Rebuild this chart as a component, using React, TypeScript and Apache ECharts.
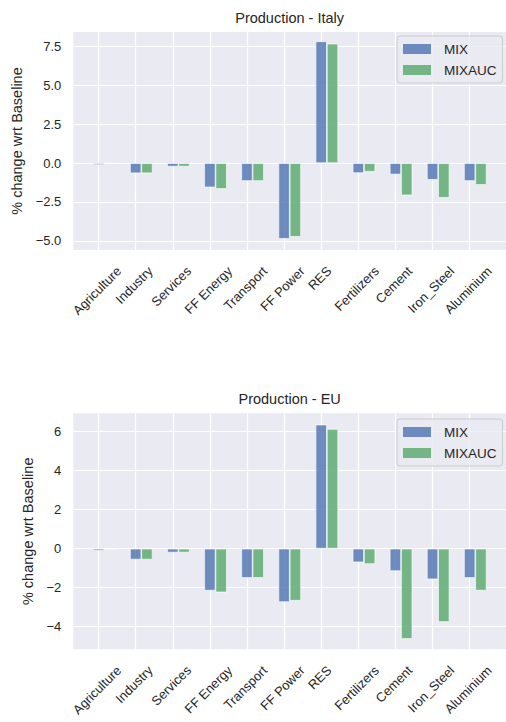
import React, { useEffect, useRef } from 'react';
import * as echarts from 'echarts';

const categories = ['Agriculture', 'Industry', 'Services', 'FF Energy', 'Transport', 'FF Power', 'RES', 'Fertilizers', 'Cement', 'Iron_Steel', 'Aluminium'];
const seriesNames = ['MIX', 'MIXAUC'];
const titles = ['Production - Italy', 'Production - EU'];
const italyMIX = [-0.12, -0.65, -0.22, -1.56, -1.15, -4.87, 7.84, -0.64, -0.73, -1.07, -1.15];
const italyMIXAUC = [-0.02, -0.65, -0.22, -1.66, -1.15, -4.74, 7.69, -0.55, -2.07, -2.23, -1.4];
const euMIX = [-0.1, -0.56, -0.2, -2.15, -1.5, -2.74, 6.36, -0.7, -1.15, -1.57, -1.5];
const euMIXAUC = [-0.02, -0.56, -0.2, -2.24, -1.5, -2.67, 6.14, -0.79, -4.63, -3.76, -2.15];
const italyTicks = [-5, -2.5, 0, 2.5, 5, 7.5];
const euTicks = [-4, -2, 0, 2, 4, 6];
const yLabel = '% change wrt Baseline';

export default function App() {
  const ref = useRef<HTMLDivElement>(null);
  useEffect(() => {
    const el = ref.current!;
    const chart = echarts.init(el, null, { renderer: 'svg' });
    const FONT = "'Liberation Sans', Arial, Helvetica, sans-serif";
    const TEXT = '#262626';
    const BLUE = 'rgba(76,114,176,0.8)';
    const GREEN = 'rgba(85,168,104,0.8)';
    const TICK_FS = 13;
    const TITLE_FS = 14.5;
    const xMin = -0.68;
    const xMax = 10.98;
    const barW = 11.3;
    const panels = [
      { title: titles[0], mix: italyMIX, auc: italyMIXAUC, ticks: italyTicks, yMin: -5.59, yMax: 8.44, top: 32, height: 218, nameGap: 47, dec: 1, legendTop: 36, titleY: 18 },
      { title: titles[1], mix: euMIX, auc: euMIXAUC, ticks: euTicks, yMin: -5.16, yMax: 6.94, top: 413.3, height: 236, nameGap: 37, dec: 0, legendTop: 419, titleY: 398.5 },
    ];
    const fmt = (d: number) => (v: number) => (v < 0 ? '\u2212' : '') + Math.abs(v).toFixed(d);
    const idx = categories.map((_, i) => i);

    const grid: any[] = [];
    const xAxis: any[] = [];
    const yAxis: any[] = [];
    const series: any[] = [];
    const legend: any[] = [];
    panels.forEach((p, g) => {
      grid.push({ left: 73.3, right: -7, top: p.top, height: p.height, show: true, backgroundColor: '#EAEAF2', borderWidth: 0, containLabel: false });
      xAxis.push({
        type: 'value', gridIndex: g, min: xMin, max: xMax,
        axisLine: { show: false },
        axisTick: { show: false, customValues: idx },
        axisLabel: { show: false, customValues: idx },
        splitLine: { show: true, lineStyle: { color: '#ffffff', width: 1.2 } },
      });
      yAxis.push({
        type: 'value', gridIndex: g, min: p.yMin, max: p.yMax,
        axisLine: { show: false },
        axisTick: { show: false, customValues: p.ticks },
        axisLabel: { customValues: p.ticks, formatter: fmt(p.dec), fontSize: TICK_FS, color: TEXT, fontFamily: FONT, margin: 12 },
        splitLine: { show: true, lineStyle: { color: '#ffffff', width: 1.2 } },
        name: yLabel, nameLocation: 'middle', nameGap: p.nameGap,
        nameTextStyle: { fontSize: TITLE_FS, color: TEXT, fontFamily: FONT },
      });
      series.push({ type: 'bar', name: '_pad' + g, xAxisIndex: g, yAxisIndex: g, data: [], barWidth: barW, barGap: '0%' });
      [p.mix, p.auc].forEach((vals, k) => {
        series.push({
          type: 'bar', name: seriesNames[k], xAxisIndex: g, yAxisIndex: g,
          data: vals.map((v, i) => [i, v]),
          barWidth: barW, barGap: '0%',
          itemStyle: { color: k === 0 ? BLUE : GREEN, borderColor: 'rgba(255,255,255,0.9)', borderWidth: 0.7 },
        });
      });
      legend.push({
        data: seriesNames, orient: 'vertical', left: 397, top: p.legendTop,
        padding: [6, 6, 6, 6], itemGap: 7, itemWidth: 28, itemHeight: 10, icon: 'rect',
        backgroundColor: 'rgba(234,234,242,0.8)', borderColor: '#cccccc', borderWidth: 1, borderRadius: 3,
        textStyle: { fontSize: 13.5, color: TEXT, fontFamily: FONT, lineHeight: 14, padding: [0, 0, 0, 8] },
        itemStyle: { borderWidth: 0 },
        selectedMode: false,
      });
    });

    chart.setOption({ animation: false, backgroundColor: '#ffffff', grid, xAxis, yAxis, series, legend });

    const ctx = document.createElement('canvas').getContext('2d')!;
    const measure = (t: string, size: number) => { ctx.font = `${size}px ${FONT}`; return ctx.measureText(t).width; };
    const graphics: any[] = [];
    panels.forEach((p, g) => {
      const a = chart.convertToPixel({ xAxisIndex: g, yAxisIndex: g }, [xMin, p.yMin]) as number[];
      const b = chart.convertToPixel({ xAxisIndex: g, yAxisIndex: g }, [xMax, p.yMax]) as number[];
      graphics.push({
        type: 'text', x: (a[0] + b[0]) / 2, y: p.titleY,
        style: { text: p.title, align: 'center', verticalAlign: 'middle', fontSize: TITLE_FS, fontFamily: FONT, fill: TEXT },
      });
      categories.forEach((c, i) => {
        const pt = chart.convertToPixel({ xAxisIndex: g, yAxisIndex: g }, [i, p.yMin]) as number[];
        const L = measure(c, TICK_FS);
        const h = TICK_FS * 0.93;
        const half = (L + h) / (2 * Math.SQRT2);
        graphics.push({
          type: 'text', x: pt[0] - 1.5, y: pt[1] + 14.5 + half, rotation: Math.PI / 4,
          style: { text: c, align: 'center', verticalAlign: 'middle', fontSize: TICK_FS, fontFamily: FONT, fill: TEXT },
        });
      });
    });
    chart.setOption({ graphic: graphics });

    return () => chart.dispose();
  }, []);
  return <div ref={ref} style={{ position: 'fixed', left: 0, top: 0, width: 506, height: 722 }} />;
}
